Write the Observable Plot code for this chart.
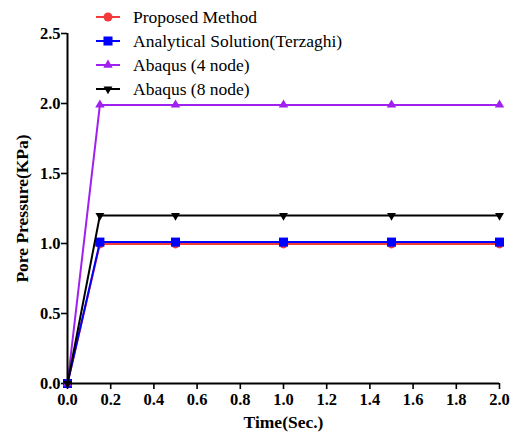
<!DOCTYPE html>
<html>
<head>
<meta charset="utf-8">
<script src="https://cdn.jsdelivr.net/npm/d3@7"></script>
<script src="https://cdn.jsdelivr.net/npm/@observablehq/plot@0.6"></script>
<style>
  html, body { margin: 0; padding: 0; background: #fff; }
  #wrap { position: relative; width: 514px; height: 434px; }
  #legend { position: absolute; left: 96px; top: 5px; font-family: "Liberation Serif", "Times New Roman", serif; font-size: 17.5px; color: #000; }
  .row { display: flex; align-items: center; height: 24px; }
  .row svg { margin-right: 12px; }
</style>
</head>
<body>
<div id="wrap"><div id="legend"></div></div>
<script>
const times = [0, 0.15, 0.5, 1.0, 1.5, 2.0];
const proposed = [0, 0.997, 0.997, 0.997, 0.997, 0.997];
const analytical = [0, 1.01, 1.01, 1.01, 1.01, 1.01];
const abaqus4 = [0, 1.99, 1.99, 1.99, 1.99, 1.99];
const abaqus8 = [0, 1.2, 1.2, 1.2, 1.2, 1.2];
const seriesNames = ["Proposed Method", "Analytical Solution(Terzaghi)", "Abaqus (4 node)", "Abaqus (8 node)"];
const seriesValues = [proposed, analytical, abaqus4, abaqus8];
const seriesColors = ["#f23a3a", "#0000ff", "#a020f0", "#000000"];
const xTicks = [0, 0.2, 0.4, 0.6, 0.8, 1.0, 1.2, 1.4, 1.6, 1.8, 2.0];
const yTicks = [0, 0.5, 1.0, 1.5, 2.0, 2.5];

const triangleUp = {
  draw(context, size) {
    const y = -Math.sqrt(size / (Math.sqrt(3) * 3));
    context.moveTo(0, y * 2);
    context.lineTo(-Math.sqrt(3) * y, -y);
    context.lineTo(Math.sqrt(3) * y, -y);
    context.closePath();
  }
};
const triangleDown = {
  draw(context, size) {
    const y = -Math.sqrt(size / (Math.sqrt(3) * 3));
    context.moveTo(0, -y * 2);
    context.lineTo(-Math.sqrt(3) * y, y);
    context.lineTo(Math.sqrt(3) * y, y);
    context.closePath();
  }
};
const symbolTypes = [d3.symbolCircle, d3.symbolSquare, triangleUp, triangleDown];
const radii = [4.5, 5.1, 3.5, 3.3];

const marks = [];
seriesValues.forEach((vals, i) => {
  const data = times.map((t, j) => ({t, v: vals[j]}));
  marks.push(Plot.line(data, {x: "t", y: "v", stroke: seriesColors[i], strokeWidth: 2}));
  marks.push(Plot.dot(data, {x: "t", y: "v", fill: seriesColors[i], stroke: "none", symbol: () => symbolTypes[i], r: radii[i]}));
});

const font = "'Liberation Serif', 'Times New Roman', serif";
const chart = Plot.plot({
  width: 514,
  height: 434,
  marginLeft: 67,
  marginRight: 15,
  marginTop: 33,
  marginBottom: 51,
  style: {fontFamily: font, fontSize: "16.5px", fontWeight: "bold", color: "#000", background: "#fff"},
  x: {domain: [0, 2], ticks: xTicks},
  y: {domain: [0, 2.5], ticks: yTicks},
  symbol: {type: "identity"},
  marks: [
    Plot.axisX({ticks: xTicks, tickSize: 6, tickPadding: 4, strokeWidth: 1.6, tickFormat: d3.format(".1f"), label: null, fontWeight: "bold", fontSize: 16.5, fontFamily: font}),
    Plot.axisY({ticks: yTicks, tickSize: 6, tickPadding: 1, strokeWidth: 1.6, tickFormat: d3.format(".1f"), label: null, fontWeight: "bold", fontSize: 16.5, fontFamily: font}),
    Plot.text(["Time(Sec.)"], {frameAnchor: "bottom", dy: 44, fontWeight: "bold", fontSize: 17.5, fontFamily: font}),
    Plot.text(["Pore Pressure(KPa)"], {frameAnchor: "left", textAnchor: "middle", dx: -45, rotate: -90, fontWeight: "bold", fontSize: 17.5, fontFamily: font}),
    ...marks,
    Plot.ruleY([0], {strokeWidth: 2}),
    Plot.ruleX([0], {strokeWidth: 2})
  ]
});
const wrap = document.getElementById("wrap");
wrap.insertBefore(chart, wrap.firstChild);

// Legend
const legend = d3.select("#legend");
seriesNames.forEach((name, i) => {
  const row = legend.append("div").attr("class", "row");
  const svg = row.append("svg").attr("width", 25).attr("height", 14);
  svg.append("line").attr("x1", 0).attr("x2", 24).attr("y1", 7).attr("y2", 7)
    .attr("stroke", seriesColors[i]).attr("stroke-width", 2);
  svg.append("path").attr("transform", "translate(12,7)")
    .attr("d", d3.symbol(symbolTypes[i], Math.PI * radii[i] * radii[i])())
    .attr("fill", seriesColors[i]);
  row.append("span").text(name);
});
</script>
</body>
</html>
